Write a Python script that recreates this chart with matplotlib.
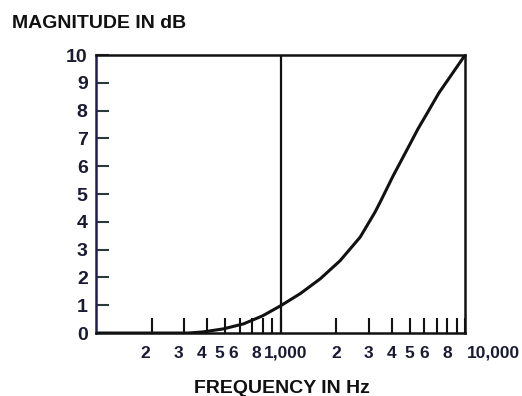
import matplotlib
matplotlib.use("Agg")
import matplotlib.pyplot as plt
from matplotlib.transforms import ScaledTranslation

plt.rcParams['font.family'] = ['Liberation Sans', 'DejaVu Sans']

# Response curve (Hz -> dB)
freq_hz = [100, 316, 380, 490, 630, 800, 1000, 1280, 1640, 2100,
           2700, 3250, 3460, 4070, 5030, 5560, 6220, 7200, 10000]
magnitude_db = [0, 0, 0.04, 0.15, 0.33, 0.62, 0.98, 1.42, 1.95, 2.6,
                3.45, 4.35, 4.7, 5.65, 6.8, 7.35, 7.9, 8.63, 10]

y_ticks = list(range(0, 11))
x_ticks = [200, 300, 400, 500, 600, 700, 800, 900, 1000,
           2000, 3000, 4000, 5000, 6000, 7000, 8000, 9000, 10000]
x_labels = ["2", "3", "4", "5", "6", "", "8", "", "1,000",
            "2", "3", "4", "5", "6", "", "8", "", "10,000"]

INK = "#111111"
NAVY = "#1f1d55"

fig = plt.figure(figsize=(5.22, 3.96), dpi=100)
ax = fig.add_axes([0.184, 0.159, 0.707, 0.702])

ax.plot(freq_hz, magnitude_db, color=INK, linewidth=2.2,
        solid_capstyle='round', solid_joinstyle='round')
ax.axvline(1000, color=INK, linewidth=1.6)

ax.set_xscale('log')
ax.set_xlim(100, 10000)
ax.set_ylim(0, 10)

ax.set_yticks(y_ticks)
ax.set_yticklabels([str(v) for v in y_ticks])
ax.set_xticks(x_ticks)
ax.set_xticklabels(x_labels)
ax.minorticks_off()

ax.tick_params(axis='y', direction='in', length=9, width=1.5,
               color='#2b3a38', pad=6, labelsize=14,
               labelcolor='#1a1a33')
ax.tick_params(axis='x', direction='in', length=11, width=1.5,
               color=INK, pad=9, labelsize=12.5, labelcolor='#1a1a33')
for lab in ax.get_yticklabels() + ax.get_xticklabels():
    lab.set_fontweight('bold')

# lower-decade digits sit a little left of their ticks,
# the decade labels a little right
for i, lab in enumerate(ax.get_xticklabels()):
    txt = lab.get_text()
    dx = 0.0
    if txt == "1,000":
        dx = 0.05
    elif txt == "10,000":
        lab.set_horizontalalignment('left')
        dx = 0.02
    elif x_ticks[i] < 1000:
        dx = -0.06
    if dx:
        lab.set_transform(lab.get_transform() +
                          ScaledTranslation(dx, 0, fig.dpi_scale_trans))

for side in ['top', 'bottom', 'right']:
    ax.spines[side].set_color(INK)
    ax.spines[side].set_linewidth(1.8)
ax.spines['left'].set_color(NAVY)
ax.spines['left'].set_linewidth(1.8)

fig.text(0.023, 0.929, "MAGNITUDE IN dB", fontsize=14, fontweight='bold',
         color=INK, ha='left', va='baseline')
fig.text(0.54, 0.008, "FREQUENCY IN Hz", fontsize=14, fontweight='bold',
         color=INK, ha='center', va='baseline')

fig.savefig("out.png", dpi=100, facecolor='white')
